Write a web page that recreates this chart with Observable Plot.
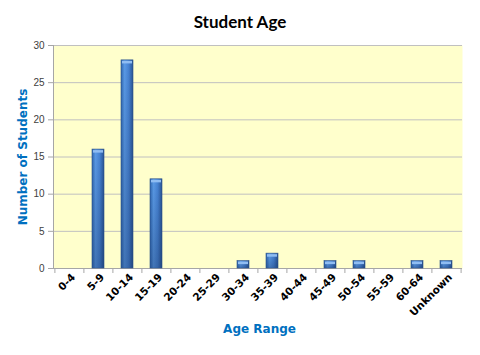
<!DOCTYPE html>
<html><head><meta charset="utf-8">
<script src="https://cdn.jsdelivr.net/npm/d3@7"></script>
<script src="https://cdn.jsdelivr.net/npm/@observablehq/plot@0.6"></script>
<style>
body{margin:0;background:#fff;}
#title{height:40px;line-height:44px;text-align:center;font-family:Lato,"Open Sans",sans-serif;font-weight:bold;font-size:17px;color:#000;width:480px;}
</style></head>
<body>
<div id="title">Student Age</div>
<div id="chart"></div>
<script>
const categories = ["0-4","5-9","10-14","15-19","20-24","25-29","30-34","35-39","40-44","45-49","50-54","55-59","60-64","Unknown"];
const students = [0,16,28,12,0,0,1,2,0,1,1,0,1,1];
const yTicks = [0,5,10,15,20,25,30];

const data = categories.map((c,i)=>({age:c, n:students[i]}));
const nonzero = data.filter(d=>d.n>0);
const step = (480-53-18)/categories.length;

const chart = Plot.plot({
  width:480, height:315,
  marginLeft:53, marginRight:18, marginTop:5, marginBottom:87,
  style:{fontFamily:"DejaVu Sans", background:"transparent"},
  x:{domain:categories, paddingInner:0.59, paddingOuter:0.295},
  y:{domain:[0,30]},
  marks:[
    Plot.frame({fill:"#ffffcc", stroke:null}),
    Plot.gridY(yTicks, {stroke:"#c0c0c0", strokeOpacity:1}),
    Plot.ruleY([0], {stroke:"#a6a6a6"}),
    Plot.frame({anchor:"left", stroke:"#a6a6a6"}),
    Plot.barY(nonzero, {x:"age", y:"n", fill:"url(#barGrad)", stroke:"#2a4f85", strokeWidth:0.6}),
    Plot.barY(nonzero, {x:"age", y:"n", fill:"url(#barShade)", inset:0.3}),
    Plot.tickY(nonzero, {x:"age", y:"n", stroke:"#90bdf2", strokeWidth:2.5, dy:1.8, inset:1}),
    Plot.axisY(yTicks, {tickSize:5, tickPadding:4, stroke:"#a6a6a6", fill:"#404040", fontSize:10, fontFamily:"Liberation Sans", label:null}),
    Plot.axisX({tickSize:5, dx:-step/2, tickFormat:()=>"", stroke:"#a6a6a6", label:null}),
    Plot.axisX(["Unknown"], {tickSize:5, dx:step/2, tickFormat:()=>"", stroke:"#a6a6a6", label:null}),
    Plot.axisX({tickSize:0, tickPadding:7, tickRotate:-45, dx:4, fontSize:10.5, fontWeight:"bold", fill:"#000", label:null}),
    Plot.text(["Number of Students"], {frameAnchor:"left", dx:-30, rotate:-90, fill:"#0070c0", fontWeight:"bold", fontSize:12, textAnchor:"middle"}),
    Plot.text(["Age Range"], {frameAnchor:"bottom", dy:64, dx:1.5, fill:"#0070c0", fontWeight:"bold", fontSize:12, textAnchor:"middle"})
  ]
});
const ns = "http://www.w3.org/2000/svg";
const defs = document.createElementNS(ns,"defs");
defs.innerHTML = `<linearGradient id="barGrad" x1="0" x2="1" y1="0" y2="0">
<stop offset="0" stop-color="#3169b2"/>
<stop offset="0.3" stop-color="#5a9ae6"/>
<stop offset="0.65" stop-color="#4682d2"/>
<stop offset="1" stop-color="#2a5595"/>
</linearGradient>
<linearGradient id="barShade" x1="0" x2="0" y1="0" y2="1">
<stop offset="0" stop-color="#0a1e46" stop-opacity="0"/>
<stop offset="1" stop-color="#0a1e46" stop-opacity="0.3"/>
</linearGradient>`;
chart.insertBefore(defs, chart.firstChild);
document.getElementById("chart").appendChild(chart);
</script>
</body></html>
